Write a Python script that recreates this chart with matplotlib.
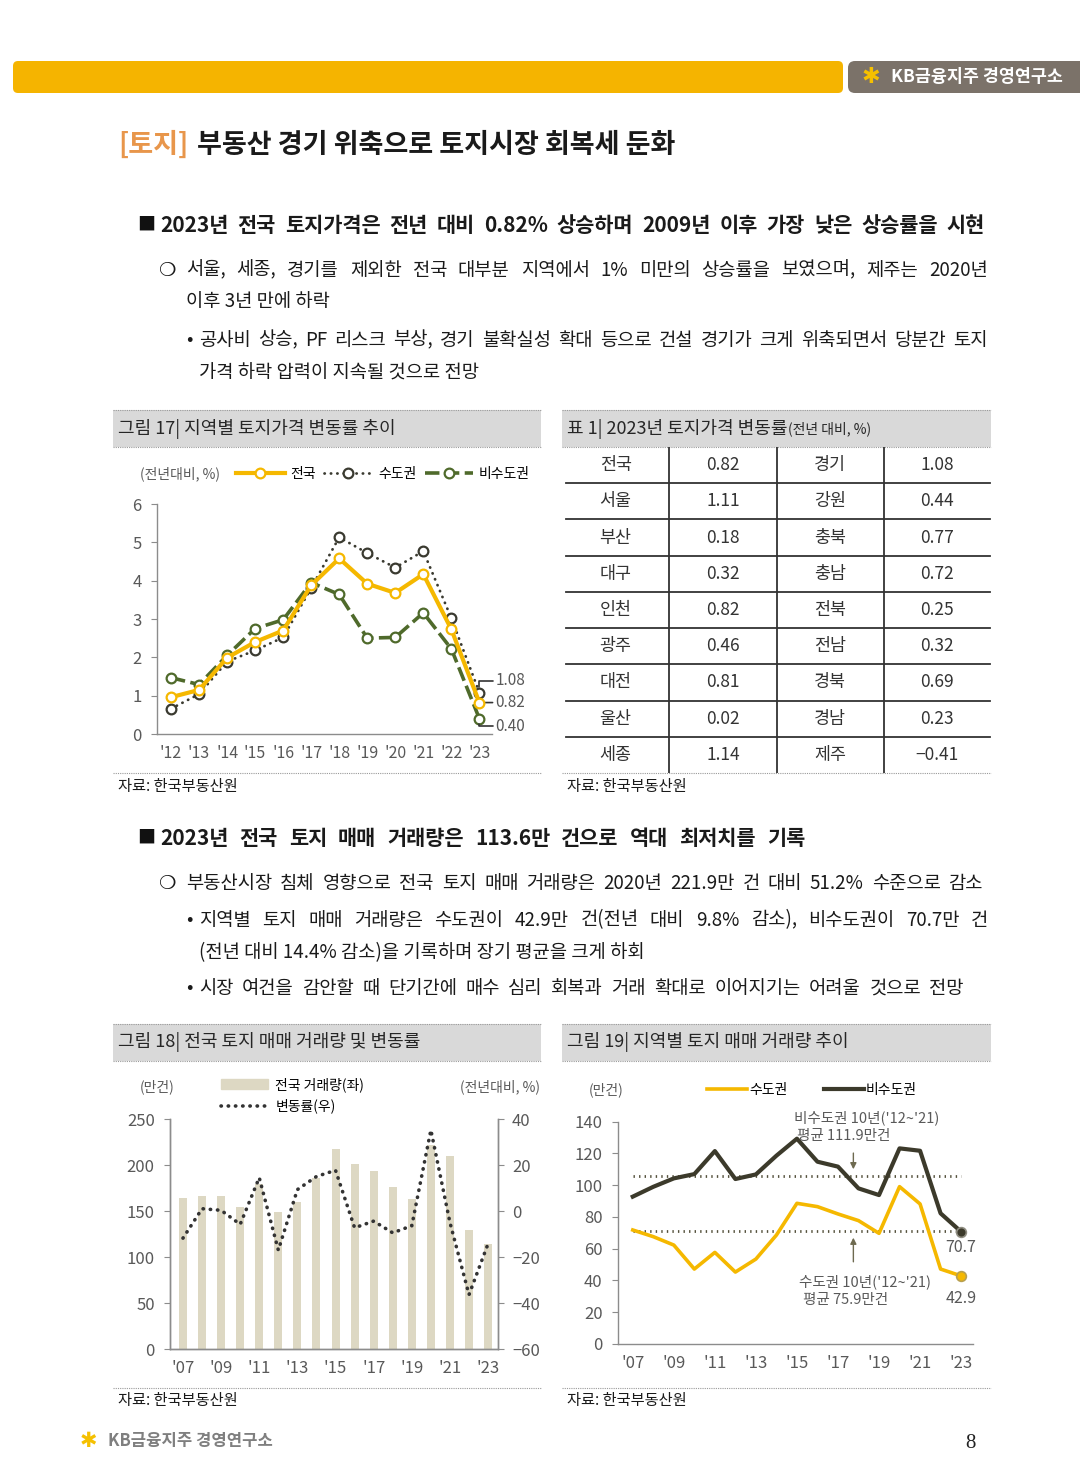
import matplotlib
matplotlib.use('Agg')
import matplotlib.pyplot as plt
from matplotlib.patches import Rectangle, FancyBboxPatch, Patch
from matplotlib.lines import Line2D

plt.rcParams['font.family'] = ['Noto Sans CJK KR', 'DejaVu Sans']

# ---------------- data ----------------
# 그림 17: 지역별 토지가격 변동률 (전년대비, %)
years17 = ["'12", "'13", "'14", "'15", "'16", "'17", "'18", "'19", "'20", "'21", "'22", "'23"]
nat17 = [0.96, 1.15, 1.99, 2.40, 2.70, 3.88, 4.58, 3.92, 3.68, 4.17, 2.73, 0.82]
cap17 = [0.66, 1.04, 1.89, 2.18, 2.52, 3.81, 5.13, 4.72, 4.34, 4.77, 3.02, 1.08]
non17 = [1.47, 1.29, 2.05, 2.75, 2.98, 3.95, 3.64, 2.50, 2.52, 3.16, 2.22, 0.40]

# 표 1: 2023년 토지가격 변동률
regions_l = ['전국', '서울', '부산', '대구', '인천', '광주', '대전', '울산', '세종']
rates_l = [0.82, 1.11, 0.18, 0.32, 0.82, 0.46, 0.81, 0.02, 1.14]
regions_r = ['경기', '강원', '충북', '충남', '전북', '전남', '경북', '경남', '제주']
rates_r = [1.08, 0.44, 0.77, 0.72, 0.25, 0.32, 0.69, 0.23, -0.41]

# 그림 18: 전국 토지 매매 거래량(만건) 및 변동률(%)
years = ["'07", "'08", "'09", "'10", "'11", "'12", "'13", "'14", "'15",
         "'16", "'17", "'18", "'19", "'20", "'21", "'22", "'23"]
vol = [164.6, 166.6, 166.6, 154.5, 179.0, 149.2, 160.3, 186.0, 217.9,
       201.3, 193.6, 175.7, 163.5, 221.9, 209.5, 129.3, 113.6]
chg = [-11.8, 1.0, 0.3, -5.8, 14.5, -17.0, 9.3, 15.0, 17.7,
       -7.3, -4.4, -9.5, -6.4, 35.2, -5.0, -36.4, -14.2]

# 그림 19: 지역별 토지 매매 거래량(만건)
cap19 = [71.8, 67.6, 62.3, 47.2, 57.7, 45.3, 53.5, 68.6, 88.6,
         86.5, 81.9, 77.7, 69.7, 99.1, 88.2, 47.2, 42.9]
non19 = [92.8, 99.0, 104.3, 107.0, 121.5, 103.9, 106.8, 118.6, 129.3,
         114.8, 111.7, 98.0, 93.8, 123.2, 121.7, 82.3, 70.7]
avg_lines = [105.8, 71.2]   # dotted reference lines as drawn in the source

YEL = '#F5B800'
DARK = '#3A3A30'
GREEN = '#4F6A2B'
DARK2 = '#3C3A2B'
BEIGE = '#DDD8C3'
GRAY_T = '#595959'

# ---------------- page ----------------
W, H = 1080, 1470
fig = plt.figure(figsize=(W / 100, H / 100), dpi=100)
page = fig.add_axes([0, 0, 1, 1], zorder=-1)
page.set_xlim(0, W)
page.set_ylim(H, 0)
page.axis('off')
rend = fig.canvas.get_renderer()


def ax_at(x0, y0, x1, y1):
    a = fig.add_axes([x0 / W, 1 - y1 / H, (x1 - x0) / W, (y1 - y0) / H])
    a.set_facecolor('none')
    return a


def put(x, y, s, size, **kw):
    kw.setdefault('va', 'center')
    kw.setdefault('color', '#1A1A1A')
    return page.text(x, y, s, fontsize=size, **kw)


def width(t):
    return t.get_window_extent(rend).width


def justify(x0, x1, y, s, size, **kw):
    words = s.split(' ')
    while True:
        ts = [put(0, y, w, size, **kw) for w in words]
        ws = [width(t) for t in ts]
        gap = (x1 - x0 - sum(ws)) / (len(ws) - 1)
        if gap >= 4 or size < 9:
            break
        for t in ts:
            t.remove()
        size -= 0.5
    x = x0
    for t, w in zip(ts, ws):
        t.set_x(x)
        x += w + gap


def dotline(x0, x1, y):
    page.plot([x0, x1], [y, y], color='#9A9A9A', lw=0.8, ls=(0, (1, 1)))


def panel_head(x0, x1, y0, y1, s, size=13):
    page.add_patch(Rectangle((x0, y0), x1 - x0, y1 - y0, color='#D9D9D9', lw=0))
    dotline(x0, x1, y0)
    dotline(x0, x1, y1)
    return put(x0 + 5, (y0 + y1) / 2, s, size, color='#262626')


def style_axis(a):
    for s in a.spines.values():
        s.set_color('#8C8C8C')
        s.set_linewidth(1)
    a.tick_params(colors='#8C8C8C', labelcolor=GRAY_T, labelsize=12)


# top banner
page.add_patch(FancyBboxPatch((13, 61), 830, 32, boxstyle='round,pad=0,rounding_size=5',
                              color='#F5B400', lw=0))
page.add_patch(FancyBboxPatch((848, 61), 260, 32, boxstyle='round,pad=0,rounding_size=7',
                              color='#7B7269', lw=0))
put(862, 77, '✱', 16, color='#F5C000', family='DejaVu Sans')
put(891, 77, 'KB금융지주 경영연구소', 12.5, color='white', weight='bold')

# title
t = put(118, 145, '[토지]', 19.5, color='#E8964B', weight='bold')
put(118 + width(t) + 9, 145, '부동산 경기 위축으로 토지시장 회복세 둔화', 19.5, weight='bold')

# section 1 text
put(137, 225, '■', 13, color='#111111')
justify(160, 985, 225, '2023년 전국 토지가격은 전년 대비 0.82% 상승하며 2009년 이후 가장 낮은 상승률을 시현',
        15, weight='bold')
put(158, 270, '❍', 14)
justify(186, 988, 270, '서울, 세종, 경기를 제외한 전국 대부분 지역에서 1% 미만의 상승률을 보였으며, 제주는 2020년', 13.5)
put(186, 301, '이후 3년 만에 하락', 13.5)
put(186, 339, '•', 13.5)
justify(199, 988, 340, '공사비 상승, PF 리스크 부상, 경기 불확실성 확대 등으로 건설 경기가 크게 위축되면서 당분간 토지', 13.5)
put(199, 373, '가격 하락 압력이 지속될 것으로 전망', 13.5)

# panel headers row 1
panel_head(113, 541, 410, 447, '그림 17| 지역별 토지가격 변동률 추이')
t = panel_head(562, 991, 410, 447, '표 1| 2023년 토지가격 변동률')
put(567 + width(t) + 1, 429, '(전년 대비, %)', 10, color='#262626')

# ---------------- chart 17 ----------------
ax1 = ax_at(157, 504, 492, 734)
x17 = list(range(len(years17)))
ax1.plot(x17, non17, color=GREEN, lw=2.6, ls=(0, (4, 1.5)), marker='o', ms=7,
         mfc='white', mec=GREEN, mew=1.6, label='비수도권', zorder=2)
ax1.plot(x17, cap17, color=DARK, lw=2, ls=(0, (0.1, 2.2)), dash_capstyle='round', marker='o',
         ms=7, mfc='white', mec=DARK, mew=1.6, label='수도권', zorder=3)
ax1.plot(x17, nat17, color=YEL, lw=3, marker='o', ms=7, mfc='white', mec=YEL, mew=1.6,
         label='전국', zorder=4)
ax1.set_xlim(-0.5, 11.45)
ax1.set_ylim(0, 6)
ax1.set_xticks(x17)
ax1.set_xticklabels(years17)
ax1.set_yticks(range(0, 7))
style_axis(ax1)
ax1.spines[['top', 'right']].set_visible(False)
ax1.tick_params(axis='x', length=0, pad=8, labelsize=11.5)
ax1.tick_params(axis='y', length=4, pad=7)
for val, dy in [(cap17[-1], 8.5), (nat17[-1], 0), (non17[-1], -5.5)]:
    conn = 'arc3' if dy == 0 else 'angle,angleA=0,angleB=90,rad=0'
    ax1.annotate(f'{val:.2f}', xy=(x17[-1], val), xytext=(11.5, dy), textcoords='offset points',
                 ha='left', va='center', fontsize=11, color=GRAY_T, annotation_clip=False,
                 arrowprops=dict(arrowstyle='-', color='#333333', lw=1.2, shrinkA=0, shrinkB=4,
                                 connectionstyle=conn))
h, l = ax1.get_legend_handles_labels()
ax1.legend(h[::-1], l[::-1], loc='center left', bbox_to_anchor=(236, 474),
           bbox_transform=page.transData, ncol=3, frameon=False, fontsize=10,
           handlelength=3.5, handletextpad=0.4, columnspacing=0.6, borderpad=0, borderaxespad=0)
put(140, 474, '(전년대비, %)', 10, color=GRAY_T)
dotline(113, 541, 773)
put(118, 786, '자료: 한국부동산원', 11)

# ---------------- table 1 ----------------
axT = ax_at(562, 447, 991, 773)
axT.set_xlim(0, 4)
axT.set_ylim(len(regions_l), 0)
axT.axis('off')


def fmt(v):
    return f'{v:.2f}'.replace('-', '−')


for i in range(len(regions_l)):
    for c, s in enumerate([regions_l[i], fmt(rates_l[i]), regions_r[i], fmt(rates_r[i])]):
        axT.text(c + 0.5, i + 0.5, s, ha='center', va='center', fontsize=12.5, color='#333333')
for i in range(1, len(regions_l)):
    axT.axhline(i, xmin=0.01, xmax=0.998, color='#333333', lw=1.3)
for c in (1, 2, 3):
    axT.axvline(c, color='#333333', lw=1.3)
dotline(562, 991, 773)
put(567, 786, '자료: 한국부동산원', 11)

# section 2 text
put(137, 838, '■', 13, color='#111111')
justify(160, 805, 838, '2023년 전국 토지 매매 거래량은 113.6만 건으로 역대 최저치를 기록', 15, weight='bold')
put(158, 883, '❍', 14)
justify(186, 983, 883, '부동산시장 침체 영향으로 전국 토지 매매 거래량은 2020년 221.9만 건 대비 51.2% 수준으로 감소', 13.5)
put(186, 919, '•', 13.5)
justify(199, 988, 920, '지역별 토지 매매 거래량은 수도권이 42.9만 건(전년 대비 9.8% 감소), 비수도권이 70.7만 건', 13.5)
put(199, 953, '(전년 대비 14.4% 감소)을 기록하며 장기 평균을 크게 하회', 13.5)
put(186, 987, '•', 13.5)
justify(199, 964, 988, '시장 여건을 감안할 때 단기간에 매수 심리 회복과 거래 확대로 이어지기는 어려울 것으로 전망', 13.5)

panel_head(113, 541, 1024, 1061, '그림 18| 전국 토지 매매 거래량 및 변동률')
panel_head(562, 991, 1024, 1061, '그림 19| 지역별 토지 매매 거래량 추이')

# ---------------- chart 18 ----------------
xv = list(range(len(years)))
ax3 = ax_at(170, 1119, 498, 1349)
ax3.bar(xv, vol, width=0.42, color=BEIGE, zorder=1)
ax3.set_xlim(-0.68, 16.52)
ax3.set_ylim(0, 250)
ax3.set_yticks(range(0, 251, 50))
ax3.set_xticks(xv[::2])
ax3.set_xticklabels(years[::2])
style_axis(ax3)
ax3.spines['top'].set_visible(False)
ax3.tick_params(axis='x', length=0, pad=8)
ax3.tick_params(axis='y', length=4, pad=7)
ax3b = ax3.twinx()
ax3b.plot(xv, chg, color='#333333', lw=2.6, ls=(0, (0.1, 1.9)), dash_capstyle='round')
ax3b.set_ylim(-60, 40)
ax3b.set_yticks(range(-60, 41, 20))
style_axis(ax3b)
ax3b.spines['top'].set_visible(False)
ax3b.tick_params(axis='y', length=4, pad=6)
ax3b.legend([Patch(color=BEIGE), Line2D([], [], color='#333333', lw=2.6, ls=(0, (0.1, 1.9)),
                                        dash_capstyle='round')],
            ['전국 거래량(좌)', '변동률(우)'], loc='upper left', bbox_to_anchor=(221, 1077),
            bbox_transform=page.transData, frameon=False, fontsize=10, handlelength=3.4,
            handleheight=0.8, handletextpad=0.5, labelspacing=0.5, borderpad=0, borderaxespad=0)
put(157, 1087, '(만건)', 10, color=GRAY_T, ha='center')
put(500, 1087, '(전년대비, %)', 10, color=GRAY_T, ha='center')
dotline(113, 541, 1388)
put(118, 1401, '자료: 한국부동산원', 11)

# ---------------- chart 19 ----------------
ax4 = ax_at(618, 1121.7, 973, 1344)
ax4.hlines(avg_lines, xv[0], xv[-1], color='#55523D', lw=2, linestyles=[(0, (0.5, 1.5))])
ax4.plot(xv, cap19, color=YEL, lw=2.6, label='수도권')
ax4.plot(xv, non19, color=DARK2, lw=3, label='비수도권')
ax4.plot(xv[-1], cap19[-1], 'o', ms=7, mfc=YEL, mec='#B8A050', mew=1.2)
ax4.plot(xv[-1], non19[-1], 'o', ms=7, mfc=DARK2, mec='#8E8C80', mew=1.2)
ax4.set_xlim(-0.72, 16.58)
ax4.set_ylim(0, 140)
ax4.set_yticks(range(0, 141, 20))
ax4.set_xticks(xv[::2])
ax4.set_xticklabels(years[::2])
style_axis(ax4)
ax4.spines[['top', 'right']].set_visible(False)
ax4.tick_params(axis='x', length=0, pad=8)
ax4.tick_params(axis='y', length=4, pad=7)
ax4.annotate(f'{non19[-1]:.1f}', xy=(xv[-1], non19[-1]), xytext=(0, -11), textcoords='offset points',
             ha='center', va='center', fontsize=11.5, color=GRAY_T, annotation_clip=False)
ax4.annotate(f'{cap19[-1]:.1f}', xy=(xv[-1], cap19[-1]), xytext=(0, -16), textcoords='offset points',
             ha='center', va='center', fontsize=11.5, color=GRAY_T, annotation_clip=False)
arrow = dict(arrowstyle='-|>', color='#6E6A50', lw=1, mutation_scale=9)
ax4.annotate('', xy=(10.75, avg_lines[0] + 2.5), xytext=(10.75, 122), arrowprops=arrow)
ax4.annotate('', xy=(10.75, avg_lines[1] - 2.5), xytext=(10.75, 50), arrowprops=arrow)
ax4.text(11.38, 142.3, "비수도권 10년('12~'21)", ha='center', va='center', fontsize=10.5,
         color=GRAY_T, clip_on=False)
ax4.text(10.26, 131, '평균 111.9만건', ha='center', va='center', fontsize=10.5, color=GRAY_T,
         clip_on=False)
ax4.text(11.33, 39, "수도권 10년('12~'21)", ha='center', va='center', fontsize=10.5, color=GRAY_T)
ax4.text(10.35, 27.7, '평균 75.9만건', ha='center', va='center', fontsize=10.5, color=GRAY_T)
h, l = ax4.get_legend_handles_labels()
ax4.legend(h, l, loc='center left', bbox_to_anchor=(707, 1090), bbox_transform=page.transData,
           ncol=2, frameon=False, fontsize=10, handlelength=2.9, handletextpad=0.15,
           columnspacing=2.6, borderpad=0, borderaxespad=0)
put(606, 1090, '(만건)', 10, color=GRAY_T, ha='center')
dotline(562, 991, 1388)
put(567, 1401, '자료: 한국부동산원', 11)

# footer
put(80, 1441, '✱', 15, color='#F5C000', family='DejaVu Sans')
put(108, 1441, 'KB금융지주 경영연구소', 12, color='#7F7F7F', weight='bold')
put(970, 1444, '8', 15, color='#222222', family='Liberation Serif', ha='center')

fig.savefig('out.png', dpi=100)
